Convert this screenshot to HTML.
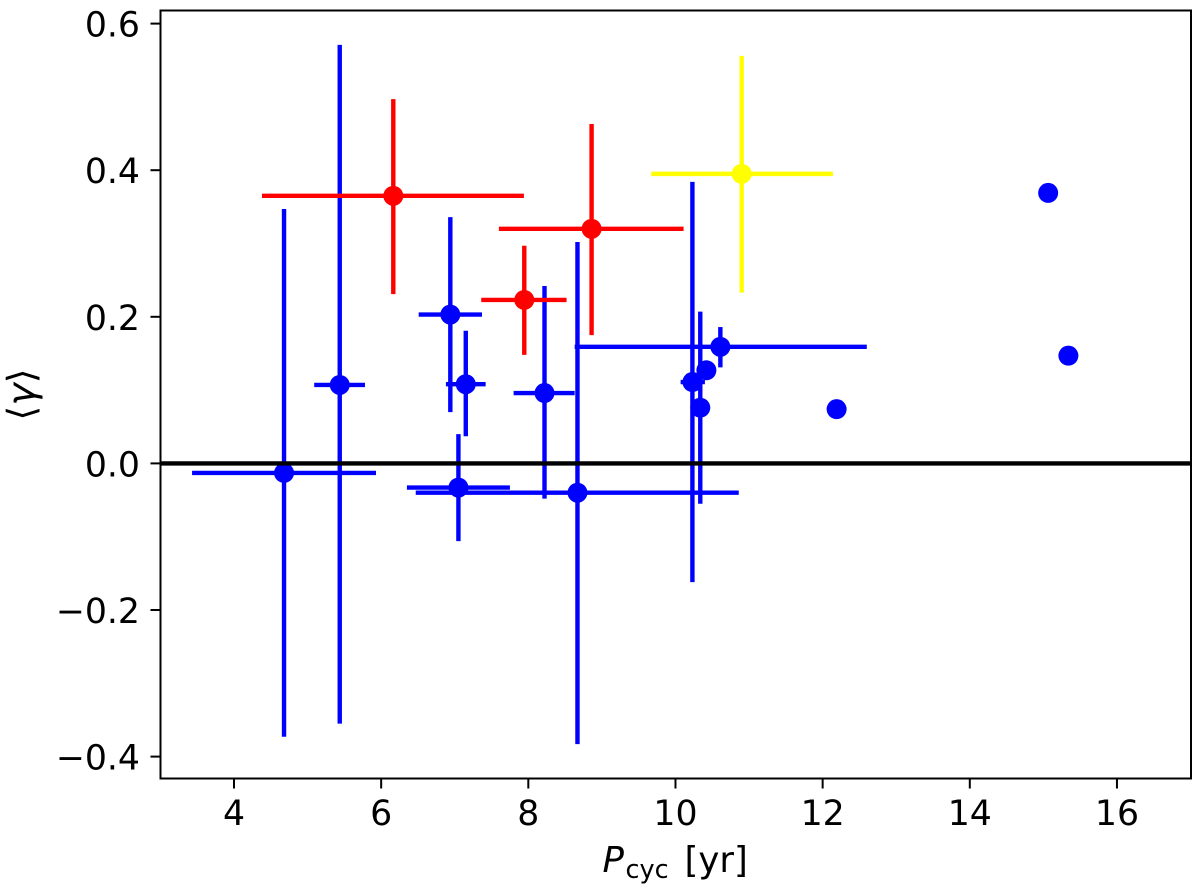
<!DOCTYPE html>
<html lang="en">
<head>
<meta charset="utf-8">
<title>Mean gamma versus cycle period</title>
<style>
html,body{margin:0;padding:0;background:#fff;width:1200px;height:888px;overflow:hidden}
svg{display:block}
text{font-family:"DejaVu Sans","Liberation Sans",sans-serif;fill:#000}
</style>
</head>
<body>
<svg id="chart" xmlns="http://www.w3.org/2000/svg" width="1200" height="888" viewBox="0 0 1200 888">
<rect x="160.5" y="10.5" width="1030.5" height="768" fill="#fff"/>
<g id="ticks"></g>
<g id="marks"></g>
<rect x="160.5" y="10.5" width="1030.5" height="768" fill="none" stroke="#000" stroke-width="2"/>
<text font-size="35.5" y="872"><tspan x="602.5" font-style="italic">P</tspan><tspan x="625.5" y="878" font-size="25.5">cyc</tspan><tspan x="684.5" y="872">[yr]</tspan></text>
<text font-size="38" text-anchor="middle" transform="translate(34.5 394.5) rotate(-90)">⟨<tspan font-style="italic">γ</tspan>⟩</text>
</svg>
<script>
const xTickLabels = [4, 6, 8, 10, 12, 14, 16];
const yTickLabels = [0.6, 0.4, 0.2, 0, -0.2, -0.4];

const blueP = [4.68, 5.437, 6.94, 7.15, 7.05, 8.22, 8.668, 10.23, 10.337, 10.42, 10.61, 12.19, 15.065, 15.34];
const blueGamma = [-0.013, 0.107, 0.203, 0.108, -0.033, 0.096, -0.04, 0.111, 0.076, 0.127, 0.159, 0.074, 0.369, 0.147];
const bluePLow = [3.43, 5.09, 6.51, 6.88, 6.35, 7.8, 6.47, 10.07, null, null, 8.63, null, null, null];
const bluePHigh = [5.93, 5.78, 7.37, 7.42, 7.75, 8.63, 10.86, 10.4, null, null, 12.6, null, null, null];
const blueGammaLow = [-0.373, -0.355, 0.07, 0.037, -0.106, -0.048, -0.383, -0.162, -0.055, null, 0.131, null, null, null];
const blueGammaHigh = [0.347, 0.571, 0.336, 0.181, 0.04, 0.242, 0.302, 0.384, 0.207, null, 0.186, null, null, null];

const redP = [6.165, 7.945, 8.86];
const redGamma = [0.365, 0.223, 0.32];
const redPLow = [4.38, 7.36, 7.6];
const redPHigh = [7.94, 8.52, 10.11];
const redGammaLow = [0.231, 0.148, 0.175];
const redGammaHigh = [0.497, 0.297, 0.463];

const yellowP = [10.9];
const yellowGamma = [0.395];
const yellowPLow = [9.67];
const yellowPHigh = [12.14];
const yellowGammaLow = [0.233];
const yellowGammaHigh = [0.556];

const referenceGamma = 0;

const NS = 'http://www.w3.org/2000/svg';
const ticksLayer = document.getElementById('ticks');
const marksLayer = document.getElementById('marks');

function xScale(v) { return 234 + (v - 4) * 73.58; }
function yScale(v) { return 463.4 - v * 733; }

function makeLine(parent, x1, y1, x2, y2, color, width) {
  const el = document.createElementNS(NS, 'line');
  el.setAttribute('x1', x1);
  el.setAttribute('y1', y1);
  el.setAttribute('x2', x2);
  el.setAttribute('y2', y2);
  el.setAttribute('stroke', color);
  el.setAttribute('stroke-width', width);
  parent.appendChild(el);
  return el;
}

function makeText(parent, x, y, anchor, content) {
  const el = document.createElementNS(NS, 'text');
  el.setAttribute('x', x);
  el.setAttribute('y', y);
  el.setAttribute('text-anchor', anchor);
  el.setAttribute('font-size', '34.7');
  el.textContent = content;
  parent.appendChild(el);
  return el;
}

xTickLabels.forEach(function (v) {
  const px = xScale(v);
  const tick = makeLine(ticksLayer, px, 778.5, px, 788.5, '#000', 2);
  
  
  const label = makeText(ticksLayer, px, 825, 'middle', String(v));
  
  
});

yTickLabels.forEach(function (v) {
  const py = yScale(v);
  const tick = makeLine(ticksLayer, 150.5, py, 160.5, py, '#000', 2);
  
  
  const text = v < 0 ? '\u2212' + Math.abs(v).toFixed(1) : v.toFixed(1);
  const label = makeText(ticksLayer, 140, py + 13, 'end', text);
  
  
});

function drawSeries(name, color, xs, ys, xLow, xHigh, yLow, yHigh) {
  const group = document.createElementNS(NS, 'g');
  
  
  marksLayer.appendChild(group);
  xs.forEach(function (v, i) {
    if (xLow[i] !== null) {
      const h = makeLine(group, xScale(xLow[i]), yScale(ys[i]), xScale(xHigh[i]), yScale(ys[i]), color, 4.4);
      
      
    }
    if (yLow[i] !== null) {
      const w = makeLine(group, xScale(v), yScale(yLow[i]), xScale(v), yScale(yHigh[i]), color, 4.4);
      
      
    }
  });
  xs.forEach(function (v, i) {
    const dot = document.createElementNS(NS, 'circle');
    dot.setAttribute('cx', xScale(v));
    dot.setAttribute('cy', yScale(ys[i]));
    dot.setAttribute('r', 10);
    dot.setAttribute('fill', color);
    
    
    group.appendChild(dot);
  });
}

drawSeries('blue', '#0000ff', blueP, blueGamma, bluePLow, bluePHigh, blueGammaLow, blueGammaHigh);
drawSeries('red', '#ff0000', redP, redGamma, redPLow, redPHigh, redGammaLow, redGammaHigh);
drawSeries('yellow', '#ffff00', yellowP, yellowGamma, yellowPLow, yellowPHigh, yellowGammaLow, yellowGammaHigh);

const zeroLine = makeLine(marksLayer, 160.5, yScale(referenceGamma), 1191, yScale(referenceGamma), '#000', 4.4);


</script>
</body>
</html>
